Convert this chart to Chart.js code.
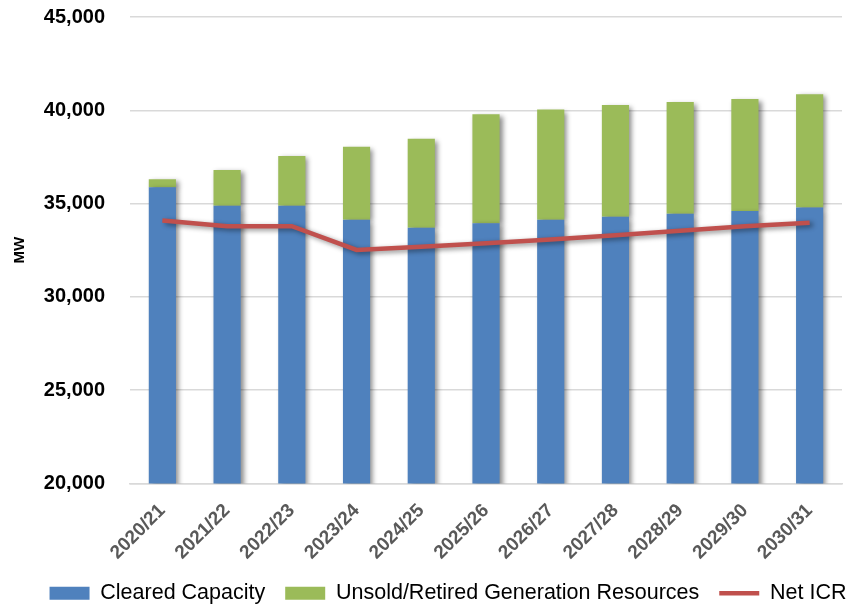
<!DOCTYPE html>
<html>
<head>
<meta charset="utf-8">
<script src="https://cdn.jsdelivr.net/npm/chart.js@4/dist/chart.umd.min.js"></script>
<style>
  html, body { margin: 0; padding: 0; background: #fff; }
  #wrap { width: 858px; height: 607px; position: relative; }
</style>
</head>
<body>
<div id="wrap"><canvas id="capChart"></canvas></div>
<script>
// === DATOS ===
const years = ["2020/21", "2021/22", "2022/23", "2023/24", "2024/25", "2025/26",
  "2026/27", "2027/28", "2028/29", "2029/30", "2030/31"];
const clearedCapacity = [35870, 34880, 34880, 34130, 33710, 33950, 34130, 34290, 34450, 34610, 34790];
const unsoldRetired = [430, 1920, 2670, 3910, 4760, 5840, 5910, 6000, 6000, 6000, 6070];
const netICR = [34090, 33790, 33790, 32520, 32690, 32880, 33080, 33300, 33550, 33780, 33980];
const yTicks = [20000, 25000, 30000, 35000, 40000, 45000];

// === SOMBRA PARA BARRAS Y LÍNEA ===
const shadowPlugin = {
  id: "shadow",
  beforeDatasetDraw(chart) {
    const ctx = chart.ctx;
    ctx.save();
    ctx.shadowColor = "rgba(0,0,0,0.45)";
    ctx.shadowBlur = 5;
    ctx.shadowOffsetX = 3;
    ctx.shadowOffsetY = 2;
  },
  afterDatasetDraw(chart) {
    chart.ctx.restore();
  },
};

// desplaza la leyenda un poco a la derecha, como en el original
const legendShift = {
  id: "legendShift",
  afterLayout(chart) {
    if (chart.legend) {
      chart.legend.left += 27;
      chart.legend.right += 27;
    }
  },
};

const ctx = document.getElementById("capChart");

new Chart(ctx, {
  type: "bar",
  data: {
    labels: years,
    datasets: [
      {
        label: "Cleared Capacity",
        data: clearedCapacity,
        backgroundColor: "#4F81BD",
        borderWidth: 0,
        pointStyle: "rect",
        order: 1,
        barPercentage: 0.42,
        categoryPercentage: 1,
      },
      {
        label: "Unsold/Retired Generation Resources",
        data: unsoldRetired,
        backgroundColor: "#9BBB59",
        borderWidth: 0,
        pointStyle: "rect",
        order: 1,
        barPercentage: 0.42,
        categoryPercentage: 1,
      },
      {
        type: "line",
        label: "Net ICR",
        data: netICR,
        borderColor: "#C0504D",
        backgroundColor: "#C0504D",
        borderWidth: 4.5,
        pointRadius: 0,
        pointStyle: "line",
        tension: 0,
        stack: "icr",
        order: 0,
      },
    ],
  },
  options: {
    responsive: true,
    maintainAspectRatio: false,
    animation: false,
    layout: { padding: { top: 17, right: 16, left: 0, bottom: -7 } },
    scales: {
      x: {
        stacked: true,
        grid: { display: false },
        border: { display: true, color: "#D9D9D9", width: 1.5 },
        afterFit: (scale) => {
          scale.height = 79;
        },
        ticks: {
          color: "#595959",
          font: { family: "Liberation Sans, Arial, sans-serif", size: 19, weight: "bold" },
          minRotation: 45,
          maxRotation: 45,
          padding: 8,
        },
      },
      y: {
        stacked: true,
        min: 20000,
        max: 45000,
        afterBuildTicks: (scale) => {
          scale.ticks = yTicks.map((v) => ({ value: v }));
        },
        afterFit: (scale) => {
          scale.width = 130;
        },
        grid: {
          color: "#D9D9D9",
          lineWidth: 1.5,
          drawTicks: true,
          tickLength: 25,
          tickColor: "rgba(0,0,0,0)",
        },
        border: { display: false },
        title: {
          display: true,
          text: "MW",
          color: "#000",
          font: { family: "Liberation Sans, Arial, sans-serif", size: 15, weight: "bold" },
          padding: { top: 11, bottom: 0 },
        },
        ticks: {
          color: "#000",
          padding: 0,
          font: { family: "Liberation Sans, Arial, sans-serif", size: 20, weight: "bold" },
          callback: (v) => v.toLocaleString("en-US"),
        },
      },
    },
    plugins: {
      legend: {
        position: "bottom",
        labels: {
          usePointStyle: true,
          pointStyleWidth: 40,
          boxHeight: 13,
          padding: 20,
          color: "#000",
          font: { family: "Liberation Sans, Arial, sans-serif", size: 21.5 },
          sort: (a, b) => a.datasetIndex - b.datasetIndex,
        },
      },
      tooltip: { enabled: false },
    },
  },
  plugins: [shadowPlugin, legendShift],
});
</script>
</body>
</html>
